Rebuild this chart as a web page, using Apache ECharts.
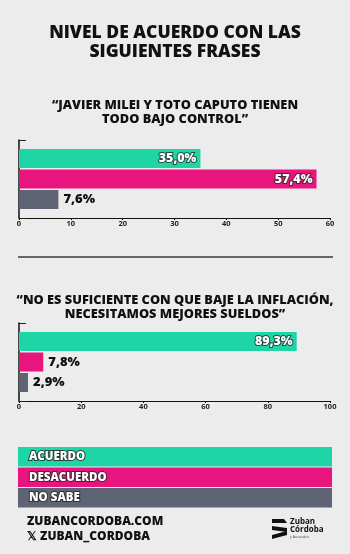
<!DOCTYPE html>
<html>
<head>
<meta charset="utf-8">
<script src="https://cdn.jsdelivr.net/npm/echarts@6/dist/echarts.min.js"></script>
<style>
html,body{margin:0;padding:0;background:#ececec;}
#c{width:350px;height:554px;}
</style>
</head>
<body>
<div id="c"></div>
<script>
const categories = ["ACUERDO", "DESACUERDO", "NO SABE"];
const colors = ["#1ed6a5", "#e8157f", "#5f6475"];
const q1Values = [35.0, 57.4, 7.6];
const q2Values = [89.3, 7.8, 2.9];
const q1Max = 60, q1Interval = 10;
const q2Max = 100, q2Interval = 20;
const mainTitle = "NIVEL DE ACUERDO CON LAS\nSIGUIENTES FRASES";
const q1Title = "“JAVIER MILEI Y TOTO CAPUTO TIENEN\nTODO BAJO CONTROL”";
const q2Title = "“NO ES SUFICIENTE CON QUE BAJE LA INFLACIÓN,\nNECESITAMOS MEJORES SUELDOS”";

const FONT = "'Open Sans'";
const W = 800;
const fmt = v => v.toFixed(1).replace('.', ',') + '%';

function labelFor(v, max) {
  const inside = v / max > 0.3;
  return inside ? {
    show: true, position: 'insideRight', distance: 4,
    color: '#fff', fontFamily: FONT, fontWeight: W, fontSize: 12.5,
    textBorderColor: 'rgba(40,40,40,0.8)', textBorderWidth: 2,
    formatter: p => fmt(p.value)
  } : {
    show: true, position: 'right', distance: 5,
    color: '#111', fontFamily: FONT, fontWeight: W, fontSize: 13,
    formatter: p => fmt(p.value)
  };
}

const series = [];
[q1Values, q2Values].forEach((vals, gi) => {
  const max = gi === 0 ? q1Max : q2Max;
  vals.forEach((v, i) => {
    series.push({
      type: 'bar', name: categories[i],
      xAxisIndex: gi, yAxisIndex: gi,
      data: [v], barWidth: 19, barGap: '8%',
      itemStyle: { color: colors[i] },
      label: labelFor(v, max),
      silent: true
    });
  });
});

function xAxis(gi, max, interval) {
  return {
    type: 'value', gridIndex: gi, min: 0, max: max, interval: interval,
    axisLine: { show: true, lineStyle: { color: '#111', width: 1 } },
    axisTick: { show: true, length: 2, lineStyle: { color: '#111' } },
    splitLine: { show: false },
    axisLabel: { color: '#222', fontSize: 7.5, fontWeight: 'bold', fontFamily: FONT, margin: 2 }
  };
}
function yAxis(gi) {
  return {
    type: 'category', gridIndex: gi, data: [''],
    axisLine: { show: true, lineStyle: { color: '#111', width: 1.5 } },
    axisTick: { show: true, inside: true, length: 7, lineStyle: { color: '#222' } },
    axisLabel: { show: false }
  };
}

const legendGraphics = [];
categories.forEach((c, i) => {
  legendGraphics.push({
    type: 'rect', left: 18, top: 447 + i * 20.5,
    shape: { width: 314, height: 19.5 },
    style: { fill: colors[i] }, silent: true
  });
  legendGraphics.push({
    type: 'text', left: 28, top: 450 + i * 20.5,
    style: { text: c, fill: '#fff', font: W + ' 11.5px ' + FONT,
      stroke: 'rgba(40,40,40,0.85)', lineWidth: 2 }, silent: true
  });
});

const option = {
  backgroundColor: '#ececec',
  animation: false,
  title: [
    { text: mainTitle, left: 'center', top: 18,
      textStyle: { fontFamily: FONT, fontWeight: W, fontSize: 17.5, color: '#111', lineHeight: 19.5, align: 'center' } },
    { text: q1Title, left: 'center', top: 93,
      textStyle: { fontFamily: FONT, fontWeight: W, fontSize: 12.8, color: '#111', lineHeight: 14, align: 'center' } },
    { text: q2Title, left: 'center', top: 288,
      textStyle: { fontFamily: FONT, fontWeight: W, fontSize: 12.8, color: '#111', lineHeight: 14, align: 'center' } }
  ],
  grid: [
    { left: 19, right: 20, top: 140, height: 78 },
    { left: 19, right: 20, top: 323, height: 78 }
  ],
  xAxis: [xAxis(0, q1Max, q1Interval), xAxis(1, q2Max, q2Interval)],
  yAxis: [yAxis(0), yAxis(1)],
  series: series,
  graphic: [
    { type: 'line', shape: { x1: 18, y1: 257, x2: 333, y2: 257 },
      style: { stroke: '#666', lineWidth: 2 }, silent: true },
    ...legendGraphics,
    { type: 'text', left: 27, top: 516,
      style: { text: 'ZUBANCORDOBA.COM', fill: '#111', font: W + ' 12px ' + FONT } },
    { type: 'text', left: 27, top: 531,
      style: { text: '𝕏 ZUBAN_CORDOBA', fill: '#111', font: W + ' 12px ' + FONT } },
    { type: 'polygon', shape: { points: [[272,519],[284,519],[287,523],[272,523]] }, style: { fill: '#111' } },
    { type: 'polygon', shape: { points: [[272,526],[287,528],[287,532],[272,530]] }, style: { fill: '#111' } },
    { type: 'polygon', shape: { points: [[272,535],[287,531],[287,535],[272,539]] }, style: { fill: '#111' } },
    { type: 'text', left: 290, top: 518,
      style: { text: 'Zuban', fill: '#111', font: 'bold 8px ' + FONT } },
    { type: 'text', left: 290, top: 526,
      style: { text: 'Córdoba', fill: '#111', font: 'bold 8px ' + FONT } },
    { type: 'text', left: 290, top: 535,
      style: { text: 'y Asociados', fill: '#444', font: '3.5px ' + FONT } }
  ]
};

echarts.init(document.getElementById('c'), null, { renderer: 'canvas' }).setOption(option);
</script>
</body>
</html>
